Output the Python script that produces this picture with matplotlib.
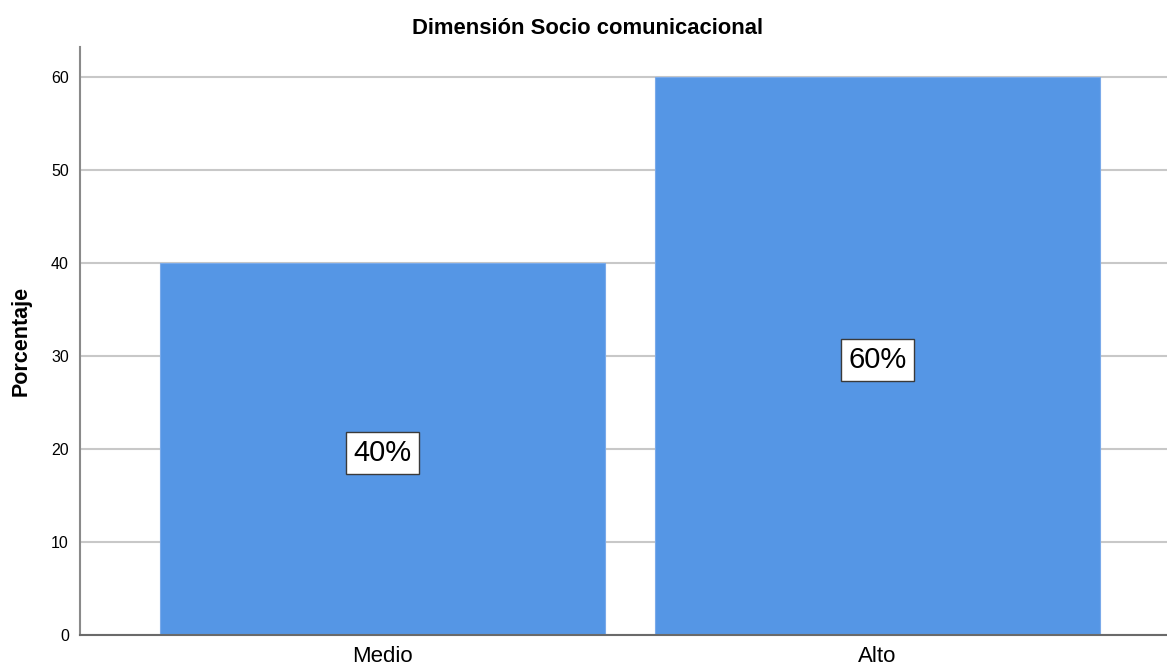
import matplotlib

matplotlib.use("Agg")

import matplotlib.pyplot as plt

categories = ["Medio", "Alto"]
percentages = [40, 60]
bar_labels = ["40%", "60%"]
y_ticks = [0, 10, 20, 30, 40, 50, 60]

plt.rcParams["font.family"] = ["Liberation Sans", "DejaVu Sans"]

fig = plt.figure(figsize=(11.67, 6.69), dpi=100)
ax = fig.add_axes([80 / 1167, 34 / 669, 1 - 80 / 1167, 588 / 669])

x = list(range(len(categories)))
ax.bar(x, percentages, width=0.9, color="#5596e5", edgecolor="#7aaaea",
       linewidth=0.8, zorder=2)

for xi, val, lab in zip(x, percentages, bar_labels):
    ax.text(xi, val / 2 - 0.4, lab, ha="center", va="center", fontsize=21,
            zorder=3,
            bbox=dict(boxstyle="square,pad=0.24", facecolor="white",
                      edgecolor="#3a3a3a", linewidth=1.0))

ax.set_xlim(-0.611, 1.585)
ax.set_ylim(0, 63.2)
ax.set_xticks(x)
ax.set_xticklabels(categories, fontsize=16)
ax.set_yticks(y_ticks)
ax.tick_params(axis="y", length=0, pad=8, labelsize=11.5)
ax.tick_params(axis="x", length=0, pad=8)

ax.yaxis.grid(True, color="#c8c8c8", linewidth=1.5, zorder=0)
ax.set_axisbelow(True)

for side in ("top", "right"):
    ax.spines[side].set_visible(False)
ax.spines["left"].set_color("#8a8a8a")
ax.spines["left"].set_linewidth(1.5)
ax.spines["bottom"].set_color("#6a6a6a")
ax.spines["bottom"].set_linewidth(1.5)
ax.spines["bottom"].set_zorder(4)

ax.set_ylabel("Porcentaje", fontsize=15.5, fontweight="bold", labelpad=14)
fig.suptitle("Dimensión Socio comunicacional", x=0.503, y=1 - 29 / 669,
             va="center", fontsize=15.8, fontweight="bold")

fig.savefig("out.png", dpi=100)
plt.close(fig)
